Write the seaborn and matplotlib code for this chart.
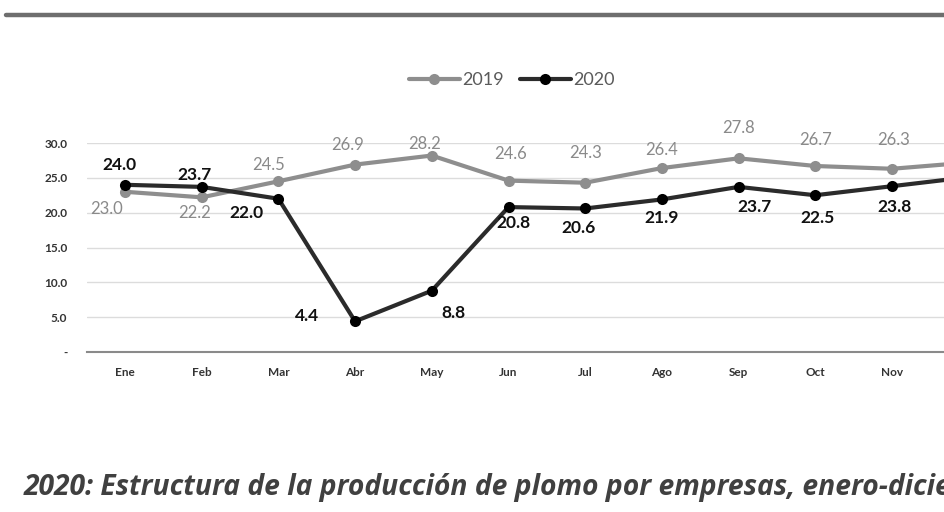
import matplotlib
matplotlib.use("Agg")
import matplotlib.pyplot as plt
from matplotlib.lines import Line2D
from matplotlib.ticker import FixedLocator, FuncFormatter
import seaborn as sns
import pandas as pd

# Monthly lead production (thousand t), 2019 vs 2020
months = ["Ene", "Feb", "Mar", "Abr", "May", "Jun", "Jul", "Ago", "Sep", "Oct", "Nov", "Dic"]
prod_2019 = [23.0, 22.2, 24.5, 26.9, 28.2, 24.6, 24.3, 26.4, 27.8, 26.7, 26.3, 27.2]
prod_2020 = [24.0, 23.7, 22.0, 4.4, 8.8, 20.8, 20.6, 21.9, 23.7, 22.5, 23.8, 25.1]
years = ["2019", "2020"]
y_ticks = [0, 5, 10, 15, 20, 25, 30]

df = pd.DataFrame({
    "idx": list(range(len(months))) * 2,
    "valor": prod_2019 + prod_2020,
    "anio": [years[0]] * len(months) + [years[1]] * len(months),
})

sns.set_theme(style="white")
plt.rcParams["font.family"] = ["Lato", "DejaVu Sans"]

W, H = 944, 512
fig = plt.figure(figsize=(W / 100, H / 100), dpi=100)
fig.patch.set_facecolor("white")

# plot area: categories 76.7 px apart; the last month runs past the page edge
step = 76.7
left_px = 125 - step / 2
ax = fig.add_axes([left_px / W, (H - 352) / H, 12 * step / W, (352 - 143) / H])

colors = {"2019": "#8e8e8e", "2020": "#2b2b2b"}
sns.lineplot(data=df, x="idx", y="valor", hue="anio", palette=colors,
             marker="o", markersize=8, linewidth=3, ax=ax, legend=False,
             markeredgewidth=0, clip_on=False)
for ln, c in zip(ax.lines, ["#8e8e8e", "#000000"]):
    ln.set_markerfacecolor(c)
    ln.set_markeredgecolor(c)

# only the months that fit on the page get a visible label
visible = len(months) - 1

ax.set_xlim(-0.5, 11.5)
ax.set_ylim(0, 30)
ax.yaxis.set_major_locator(FixedLocator(y_ticks))
ax.yaxis.set_major_formatter(FuncFormatter(lambda v, p: "-" if v == 0 else f"{v:.1f}"))
ax.set_xticks(range(visible))
ax.set_xticklabels(months[:visible])
ax.xaxis.set_minor_locator(FixedLocator([i - 0.5 for i in range(len(months) + 1)]))
ax.tick_params(axis="x", which="major", length=0, pad=11)
ax.tick_params(axis="x", which="minor", length=4, width=1, color="#888888", direction="out")
ax.tick_params(axis="y", length=0, pad=14)
for lab in ax.get_xticklabels() + ax.get_yticklabels():
    lab.set_fontsize(8.5)
    lab.set_fontweight("bold")
    lab.set_color("#333333")
ax.set_xlabel("")
ax.set_ylabel("")

ax.grid(axis="y", color="#dcdcdc", linewidth=1)
ax.set_axisbelow(True)
for s in ["top", "right", "left"]:
    ax.spines[s].set_visible(False)
ax.spines["bottom"].set_color("#8a8a8a")
ax.spines["bottom"].set_linewidth(1.5)

# data labels (offsets in pixels)
off_2019 = [(-18, -17), (-7, -16), (-10, 16), (-8, 20), (-7, 12), (2, 27),
            (0, 30), (0, 18), (0, 30), (0, 26), (2, 29)]
off_2020 = [(-6, 20), (-7, 12), (-32, -14), (-48, 5), (22, -22), (5, -16),
            (-7, -20), (0, -19), (16, -20), (2, -23), (3, -21)]
for i, o in enumerate(off_2019):
    v = prod_2019[i]
    ax.annotate(f"{v:.1f}", (i, v), xytext=o, textcoords="offset pixels",
                ha="center", va="center", fontsize=12, color="#8a8a8a",
                annotation_clip=False)
for i, o in enumerate(off_2020):
    v = prod_2020[i]
    ax.annotate(f"{v:.1f}", (i, v), xytext=o, textcoords="offset pixels",
                ha="center", va="center", fontsize=12.5, fontweight="bold",
                color="#111111", annotation_clip=False)

handles = [Line2D([], [], color="#8e8e8e", lw=3, marker="o", markersize=8,
                  markerfacecolor="#8e8e8e", markeredgewidth=0),
           Line2D([], [], color="#2b2b2b", lw=3, marker="o", markersize=8,
                  markerfacecolor="#000000", markeredgewidth=0)]
fig.legend(handles, years, loc="center", bbox_to_anchor=(512 / W, 1 - 80 / H),
           ncol=2, frameon=False, fontsize=13, handlelength=2.8,
           handletextpad=0.15, columnspacing=0.9, labelcolor="#5a5a5a")

# top rule
fig.add_artist(Line2D([6 / W, 1.0], [1 - 15 / H, 1 - 15 / H], color="#6e6e6e",
                      lw=3.2, transform=fig.transFigure))

# section heading (continues past the right edge of the page)
fig.text(24 / W, 1 - 487 / H,
         "2020: Estructura de la producción de plomo por empresas, enero-diciembre",
         fontsize=20.3, fontweight="bold", fontstyle="italic", color="#404040",
         family=["Open Sans", "DejaVu Sans"], ha="left", va="center")

fig.savefig("out.png", dpi=100, facecolor="white")
